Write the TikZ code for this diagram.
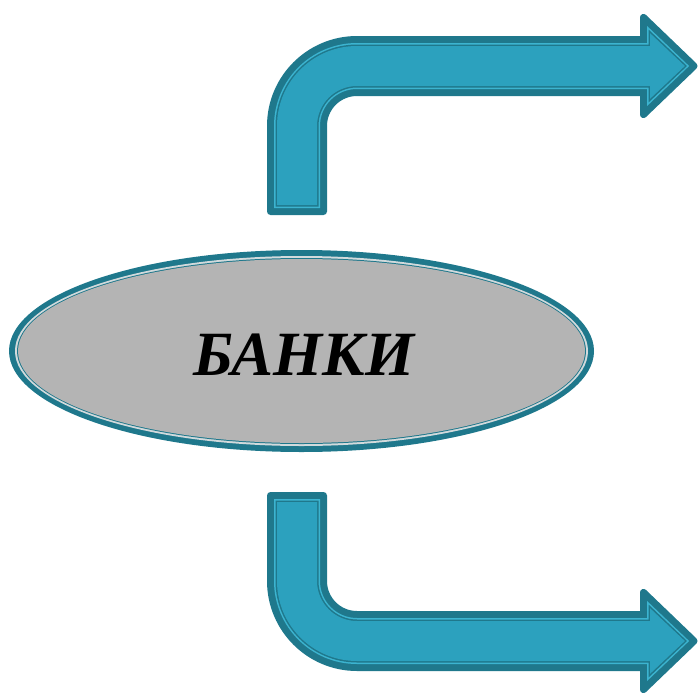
\documentclass[tikz,border=0pt]{standalone}
\usepackage{fontspec}
\setmainfont{Liberation Serif}
\definecolor{tealdark}{HTML}{1F788C}
\definecolor{teallight}{HTML}{3CB4D0}
\definecolor{tealfill}{HTML}{2CA1BE}
\definecolor{ringlight}{HTML}{D2DADC}
\definecolor{bodygray}{HTML}{B4B4B4}

% Bent arrow (stem going up, then right), inset by #1 points
\newcommand{\bentarrow}[1]{%
  (267+#1, -215+#1) -- (267+#1, -126)
  arc[start angle=180, end angle=90, radius=90-#1]
  -- (640+#1, -36-#1)
  -- (640+#1, -9-#1-1.414*#1)
  -- (699-1.414*#1, -66)
  -- (640+#1, -123+#1+1.414*#1)
  -- (640+#1, -96+#1)
  -- (357, -96+#1)
  arc[start angle=90, end angle=180, radius=30+#1]
  -- (327-#1, -215+#1) -- cycle}

\tikzset{
  arrowrim/.style={fill=tealdark, draw=tealdark, line width=7pt, line join=round},
}

\newcommand{\layeredarrow}{%
  \path[arrowrim] \bentarrow{3.5};
  \fill[teallight] \bentarrow{7};
  \fill[tealdark] \bentarrow{8.5};
  \fill[tealfill] \bentarrow{10};
}

\begin{document}
\begin{tikzpicture}[x=1pt, y=1pt]
  \useasboundingbox (0,0) rectangle (697,-699);

  % upper arrow
  \layeredarrow
  % lower arrow, mirrored
  \begin{scope}[yshift=-707pt, yscale=-1]
    \layeredarrow
  \end{scope}

  % central ellipse with layered rim
  \fill[tealdark]  (301.5,-351) ellipse[x radius=292.5, y radius=101];
  \fill[ringlight] (301.5,-351) ellipse[x radius=286.5, y radius=95];
  \fill[tealdark]  (301.5,-351) ellipse[x radius=284.5, y radius=93];
  \fill[bodygray]  (301.5,-351) ellipse[x radius=283.5, y radius=92];

  \node[anchor=base, inner sep=0pt, font=\fontsize{63}{63}\selectfont\bfseries\itshape]
    (banks) at (304,-375) {БАНКИ};
\end{tikzpicture}
\end{document}
